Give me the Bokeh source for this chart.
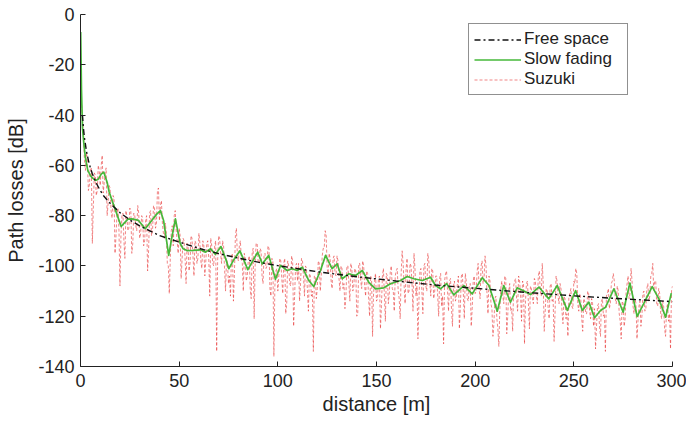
from bokeh.plotting import figure
from bokeh.models import Range1d, FixedTicker, Legend, LegendItem
from bokeh.embed import file_html
from bokeh.resources import INLINE

# ---------------- data ----------------
x_ticks = [0, 50, 100, 150, 200, 250, 300]
x_tick_labels = ["0", "50", "100", "150", "200", "250", "300"]
y_ticks = [0, -20, -40, -60, -80, -100, -120, -140]
y_tick_labels = ["0", "-20", "-40", "-60", "-80", "-100", "-120", "-140"]

free_d = [1, 1.5, 2, 3, 4, 5, 6, 8, 10, 12, 15, 20, 25, 30, 40, 50, 60, 70, 80, 90,
          100, 120, 140, 160, 180, 200, 225, 250, 275, 300]
free_db = [-40, -45.3, -49, -54.3, -58, -61, -63.3, -67.1, -70, -72.4, -75.1, -78.8,
           -81.7, -84.1, -87.9, -90.5, -93.0, -95.1, -96.9, -98.5, -99.9, -102.3,
           -104.3, -106.0, -107.6, -108.9, -110.5, -111.9, -113.1, -114.2]

slow_d = [0.1, 0.5, 1, 1.7, 2.5, 3.7, 5, 6, 7.6, 9, 10.5, 11.8, 13.5, 14.5, 16, 18.4,
          20.6, 22.6, 24, 26, 29.4, 32.8, 36.1, 38.5, 40.5, 42.1, 44.7, 46.3, 48.1,
          50.5, 52, 54, 57, 60.8, 63.4, 65.9, 68.4, 71.2, 73.5, 75.2, 77.7, 80.8,
          84.8, 89.8, 92.1, 95.4, 98.8, 101.4, 104.7, 107.3, 109.8, 112.4, 115.7,
          118.2, 121.6, 124.2, 127.5, 130.1, 132.6, 136, 139.4, 142.8, 146.1, 149.5,
          153.7, 157.1, 162.2, 165.6, 168.9, 173.2, 177.4, 179.9, 182.4, 185.5,
          189.2, 194.3, 198.5, 203.6, 207, 211.2, 214.5, 217.9, 221.3, 224.7, 228,
          232.3, 237.3, 241.6, 246.7, 250.9, 254.3, 257.6, 260.5, 263.5, 266.1,
          270.3, 275, 278.4, 282.1, 285.8, 289.7, 293.1, 296.5, 299.4]
slow_db = [-7, -30, -45, -51.4, -57, -62, -64, -65, -66, -65.5, -63.5, -62.7, -66.7,
           -70.5, -74, -79.3, -84.3, -82.6, -81.4, -81.3, -81.9, -85.2, -81.9, -79.5,
           -78, -81.9, -95.8, -88.6, -81.3, -91, -93.2, -93.9, -93.8, -93.6, -94.5,
           -93.2, -95.4, -92.3, -97, -101.1, -97.5, -94, -101.5, -94.5, -99.2, -95.8,
           -105.3, -99.8, -101.8, -101.1, -101.8, -100.5, -105.8, -108.2, -101.8,
           -95.8, -101.1, -99.2, -105.1, -103.1, -103.8, -101.8, -106.5, -109.1,
           -108.7, -107.1, -105.8, -104.2, -105.1, -105.8, -104.5, -107.8, -109.1,
           -107, -111.5, -107.8, -111.1, -104.7, -107.8, -118, -107.8, -114.4,
           -108.7, -110, -111.4, -108.4, -113.1, -107.8, -117.7, -109.8, -117.7,
           -114.4, -120.6, -117.7, -116.4, -109.1, -118.4, -106.8, -120.1, -114.4,
           -108.2, -113.1, -120.4, -110.8]

# Suzuki samples at whole metres 1..300 (plus the first sample at 0.2 m)
suzuki_start_d = 0.2
suzuki_start_db = -22
suzuki_whole_d = list(range(1, 301))
suzuki_whole_db = [
    -42, -58, -55, -70, -61, -91, -63, -72, -60, -68,
    -56, -67, -61, -75, -69, -81, -73, -88, -77, -108,
    -80, -90, -78, -86, -77, -95, -79, -84, -76, -89,
    -80, -92, -82, -102, -79, -88, -76, -85, -70, -82,
    -74, -87, -83, -99, -111, -86, -92, -78, -90, -85,
    -105, -89, -97, -91, -102, -88, -96, -90, -99, -87,
    -98, -90, -104, -91, -97, -89, -99, -92, -134, -88,
    -95, -90, -101, -97, -107, -112, -95, -103, -85, -98,
    -90, -99, -95, -106, -98, -109, -95, -121, -91, -98,
    -93, -104, -96, -101, -92, -109, -97, -136, -102, -110,
    -97, -105, -99, -119, -98, -107, -96, -124, -100, -106,
    -114, -97, -104, -100, -110, -103, -112, -134, -104, -109,
    -99, -104, -93, -86, -101, -95, -106, -97, -103, -96,
    -105, -100, -109, -117, -100, -107, -99, -110, -101, -120,
    -99, -106, -98, -108, -102, -113, -104, -128, -106, -114,
    -105, -125, -104, -112, -103, -115, -102, -109, -118, -102,
    -110, -121, -94, -108, -101, -111, -99, -107, -95, -112,
    -129, -102, -110, -100, -108, -95, -106, -101, -113, -104,
    -112, -105, -116, -131, -103, -110, -106, -117, -108, -114,
    -107, -125, -104, -111, -103, -113, -108, -124, -106, -111,
    -102, -109, -100, -107, -96, -111, -104, -115, -128, -113,
    -121, -132, -109, -112, -104, -127, -110, -118, -126, -106,
    -113, -104, -111, -106, -131, -107, -115, -108, -113, -105,
    -112, -104, -110, -99, -126, -109, -117, -108, -114, -130,
    -104, -112, -107, -118, -112, -121, -128, -111, -116, -106,
    -101, -115, -111, -121, -113, -119, -110, -118, -113, -124,
    -133, -116, -124, -114, -120, -134, -111, -117, -107, -103,
    -113, -108, -119, -129, -115, -121, -107, -113, -101, -116,
    -113, -129, -116, -124, -111, -118, -109, -114, -104, -99,
    -106, -115, -109, -119, -114, -125, -117, -122, -133, -108,
]
# Suzuki samples at half metres 0.5..299.5
suzuki_half_d = [k + 0.5 for k in range(300)]
suzuki_half_db = [
    -35, -47, -62, -58, -68, -61, -77, -64, -70, -62,
    -60, -71, -63, -80, -68, -78, -72, -95, -79, -86,
    -88, -79, -97, -80, -85, -78, -91, -80, -86, -79,
    -87, -81, -90, -80, -94, -78, -86, -77, -83, -69,
    -76, -83, -89, -87, -100, -97, -84, -80, -86, -95,
    -88, -97, -90, -107, -92, -99, -89, -104, -91, -97,
    -91, -101, -92, -98, -90, -112, -92, -100, -90, -98,
    -89, -99, -92, -110, -99, -104, -96, -114, -88, -96,
    -92, -97, -110, -97, -104, -96, -113, -93, -100, -91,
    -99, -94, -107, -95, -100, -93, -112, -98, -108, -101,
    -104, -98, -111, -97, -115, -100, -108, -98, -112, -99,
    -99, -107, -98, -112, -101, -118, -104, -110, -104, -113,
    -98, -110, -96, -93, -88, -103, -97, -109, -96, -104,
    -98, -110, -101, -107, -112, -100, -114, -101, -108, -102,
    -119, -99, -109, -100, -112, -103, -120, -105, -111, -103,
    -113, -104, -116, -101, -122, -104, -111, -100, -110, -104,
    -101, -113, -103, -99, -115, -97, -110, -100, -118, -101,
    -108, -114, -101, -119, -99, -110, -98, -112, -102, -110,
    -104, -120, -103, -112, -106, -102, -118, -105, -124, -106,
    -112, -104, -116, -103, -121, -106, -114, -107, -117, -104,
    -110, -99, -113, -98, -105, -100, -119, -106, -117, -123,
    -112, -125, -117, -106, -115, -105, -120, -107, -117, -108,
    -105, -118, -106, -122, -107, -114, -106, -125, -109, -115,
    -106, -115, -102, -112, -107, -118, -110, -121, -107, -113,
    -118, -106, -115, -109, -123, -113, -119, -112, -109, -117,
    -107, -103, -118, -113, -126, -114, -119, -111, -121, -115,
    -117, -124, -115, -128, -113, -119, -112, -109, -115, -106,
    -106, -115, -110, -122, -114, -124, -110, -104, -111, -106,
    -119, -115, -122, -114, -120, -110, -117, -107, -112, -103,
    -110, -106, -116, -111, -121, -116, -128, -115, -119, -110,
]

pairs = sorted([(suzuki_start_d, suzuki_start_db)]
               + list(zip(suzuki_whole_d, suzuki_whole_db))
               + list(zip(suzuki_half_d, suzuki_half_db)))
suzuki_d = [a for a, _ in pairs]
suzuki_db = [b for _, b in pairs]

# ---------------- figure ----------------
FONT = "Liberation Sans"
p = figure(width=686, height=424, output_backend="svg", toolbar_location=None,
           x_range=Range1d(0, 300), y_range=Range1d(-140, 0),
           min_border_left=80, min_border_right=14, min_border_top=14, min_border_bottom=58)
p.outline_line_color = None
p.xgrid.visible = False
p.ygrid.visible = False
p.background_fill_color = "white"
p.border_fill_color = "white"

r_suz = p.line(suzuki_d, suzuki_db, line_color="#e83434", line_alpha=0.75,
               line_width=0.8, line_dash="3 2")
r_slow = p.line(slow_d, slow_db, line_color="#46b83a", line_width=1.7,
                line_join="round")
r_free = p.line(free_d, free_db, line_color="#111111", line_width=1.4,
                line_dash="6 3 2 3")

for ax in (p.xaxis[0], p.yaxis[0]):
    ax.axis_line_color = "#222222"
    ax.axis_line_width = 1
    ax.major_tick_in = 5
    ax.major_tick_out = 0
    ax.minor_tick_line_color = None
    ax.major_tick_line_color = "#222222"
    ax.major_label_text_font = FONT
    ax.major_label_text_font_size = "18px"
    ax.major_label_text_color = "#222222"
    ax.axis_label_text_font = FONT
    ax.axis_label_text_font_size = "20px"
    ax.axis_label_text_font_style = "normal"
    ax.axis_label_text_color = "#222222"

p.xaxis.ticker = FixedTicker(ticks=x_ticks)
p.yaxis.ticker = FixedTicker(ticks=y_ticks)
p.xaxis.major_label_overrides = {t: s for t, s in zip(x_ticks, x_tick_labels)}
p.yaxis.major_label_overrides = {t: s for t, s in zip(y_ticks, y_tick_labels)}
p.xaxis.axis_label = "distance [m]"
p.yaxis.axis_label = "Path losses [dB]"
p.xaxis.major_label_standoff = 7
p.yaxis.major_label_standoff = 6
p.xaxis.axis_label_standoff = 3
p.yaxis.axis_label_standoff = 8

legend = Legend(items=[
    LegendItem(label="Free space", renderers=[r_free]),
    LegendItem(label="Slow fading", renderers=[r_slow]),
    LegendItem(label="Suzuki", renderers=[r_suz]),
], location=(388, 271))
legend.label_text_font = FONT
legend.label_text_font_size = "17px"
legend.label_text_color = "#222222"
legend.label_height = 19
legend.glyph_height = 19
legend.glyph_width = 47
legend.label_width = 98
legend.label_standoff = 3
legend.padding = 5
legend.spacing = 0
legend.margin = 0
legend.border_line_color = "#222222"
legend.border_line_width = 1
legend.background_fill_color = "white"
legend.background_fill_alpha = 1
p.add_layout(legend, "center")

open("out.html", "w").write(file_html(p, INLINE))
